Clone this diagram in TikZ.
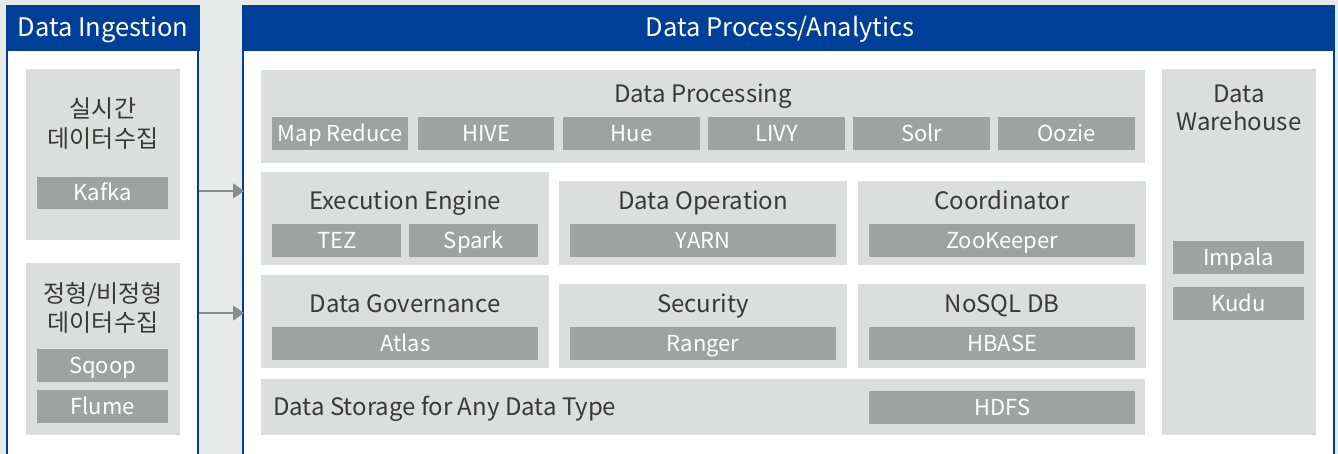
\documentclass[tikz,border=0pt]{standalone}
\usepackage{fontspec}
\setmainfont{Noto Sans CJK KR}
\usetikzlibrary{arrows.meta}
\definecolor{bgc}{HTML}{E8EAE9}
\definecolor{hdrblue}{HTML}{003F97}
\definecolor{boxgray}{HTML}{DCDDDD}
\definecolor{bargray}{HTML}{A0A1A1}
\definecolor{txtdark}{HTML}{3B3838}
\definecolor{arrgray}{HTML}{8A8A8A}
\tikzset{
  rbox/.style={fill=boxgray, draw=none, inner sep=0pt, anchor=north west},
  rbar/.style={fill=bargray, draw=none, inner sep=0pt, anchor=north west, text=white,
    font=\fontsize{22}{24}\selectfont, text height=15.5pt, text depth=0pt},
  ttl/.style={text=txtdark, inner sep=0pt, font=\fontsize{24}{26}\selectfont, text height=17pt, text depth=0pt},
  hdr/.style={fill=hdrblue, draw=none, inner sep=0pt, anchor=north west},
  hdrtxt/.style={text=white, inner sep=0pt, font=\fontsize{25.5}{27}\selectfont, text height=18pt, text depth=0pt},
  flow/.style={draw=arrgray, line width=1.4pt, -{Triangle[length=11pt,width=15pt]}},
}
\newcommand{\rboxat}[5]{\node[rbox, minimum width={(#4-#2)*1pt}, minimum height={(#5-#3)*1pt}] (#1) at (#2,#3) {};}
\newcommand{\rbarat}[6]{\node[rbar, minimum width={(#4-#2)*1pt}, minimum height={(#5-#3)*1pt}] (#1) at (#2,#3) {#6};}
\begin{document}
\begin{tikzpicture}[x=1pt,y=-1pt]
\fill[bgc] (0,0) rectangle (1338,454);
\useasboundingbox (0,0) rectangle (1338,454);
% panels
\node[fill=white, draw=none, inner sep=0pt, anchor=north west, minimum width=190pt, minimum height=404pt] (ingbody) at (8,51) {};
\draw[hdrblue, line width=2pt] (7,51) -- (7,454) (198,51) -- (198,454);
\node[hdr, minimum width=194pt, minimum height=46pt] (inghdr) at (6,5) {};
\node[hdrtxt] (inghdrt) at (103,28) {Data Ingestion};
\node[fill=white, draw=none, inner sep=0pt, anchor=north west, minimum width=1089pt, minimum height=404pt] (probody) at (244,51) {};
\draw[hdrblue, line width=2pt] (243,51) -- (243,454) (1334,51) -- (1334,454);
\node[hdr, minimum width=1093pt, minimum height=46pt] (prohdr) at (242,5) {};
\node[hdrtxt] (prohdrt) at (780,28) {Data Process/Analytics};
% ingestion boxes
\rboxat{rt}{26}{69}{180}{240}
\node[ttl] (rt1) at (103,109) {실시간};
\node[ttl] (rt2) at (103,139) {데이터수집};
\rbarat{kafka}{37}{177}{168}{209}{Kafka}
\rboxat{st}{26}{263}{180}{435}
\node[ttl] (st1) at (103,294) {정형/비정형};
\node[ttl] (st2) at (103,323) {데이터수집};
\rbarat{sqoop}{37}{349}{168}{382}{Sqoop}
\rbarat{flume}{37}{390}{168}{423}{Flume}
% arrows
\coordinate (a1) at (199,191);
\coordinate (a2) at (199,313);
\draw[flow] (a1) -- (a1 -| probody.west);
\draw[flow] (a2) -- (a2 -| probody.west);
% data processing
\rboxat{dp}{261}{70}{1145}{163}
\node[ttl] (dpt) at (703,94) {Data Processing};
\rbarat{mr}{272}{117}{408}{150}{Map Reduce}
\rbarat{hive}{418}{117}{554}{150}{HIVE}
\rbarat{hue}{563}{117}{700}{150}{Hue}
\rbarat{livy}{708}{117}{845}{150}{LIVY}
\rbarat{solr}{853}{117}{990}{150}{Solr}
\rbarat{oozie}{998}{117}{1135}{150}{Oozie}
% row 2
\rboxat{ee}{261}{172}{549}{265}
\node[ttl] (eet) at (405,201) {Execution Engine};
\rbarat{tez}{272}{224}{401}{257}{TEZ}
\rbarat{spark}{409}{224}{538}{257}{Spark}
\rboxat{dop}{559}{181}{847}{265}
\node[ttl] (dopt) at (703,201) {Data Operation};
\rbarat{yarn}{570}{224}{836}{257}{YARN}
\rboxat{co}{858}{181}{1146}{265}
\node[ttl] (cot) at (1002,201) {Coordinator};
\rbarat{zk}{869}{224}{1135}{257}{ZooKeeper}
% row 3
\rboxat{dg}{261}{275}{549}{368}
\node[ttl] (dgt) at (405,304) {Data Governance};
\rbarat{atlas}{272}{327}{538}{360}{Atlas}
\rboxat{sec}{559}{284}{847}{368}
\node[ttl] (sect) at (703,304) {Security};
\rbarat{ranger}{570}{327}{836}{360}{Ranger}
\rboxat{nosql}{858}{284}{1146}{368}
\node[ttl] (nosqlt) at (1002,304) {NoSQL DB};
\rbarat{hbase}{869}{327}{1135}{360}{HBASE}
% storage
\rboxat{ds}{261}{379}{1145}{435}
\node[ttl, anchor=west] (dst) at (273,407) {Data Storage for Any Data Type};
\rbarat{hdfs}{869}{391}{1135}{424}{HDFS}
% warehouse
\rboxat{dw}{1162}{69}{1316}{435}
\node[ttl] (dw1) at (1239,94) {Data};
\node[ttl] (dw2) at (1239,122) {Warehouse};
\rbarat{impala}{1173}{241}{1304}{274}{Impala}
\rbarat{kudu}{1173}{287}{1304}{320}{Kudu}
\end{tikzpicture}
\end{document}
